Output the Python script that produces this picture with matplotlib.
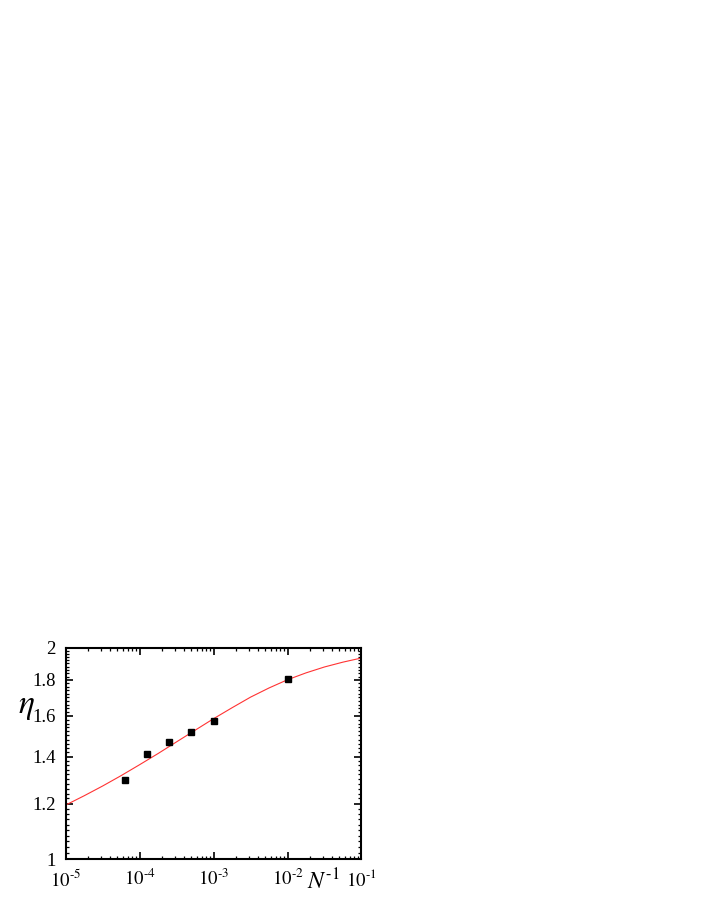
import matplotlib
matplotlib.use('Agg')
import matplotlib.pyplot as plt
from matplotlib.ticker import FixedLocator, NullFormatter, FixedFormatter

plt.rcParams['font.family'] = ['Liberation Serif', 'DejaVu Serif']
plt.rcParams['mathtext.fontset'] = 'stix'

# measured points
inv_n = [6.25e-5, 1.25e-4, 2.5e-4, 5e-4, 1e-3, 1e-2]
eta = [1.295, 1.412, 1.469, 1.519, 1.574, 1.807]

# fitted curve
fit_x = [1e-5, 1.78e-5, 3.16e-5, 5.62e-5, 1e-4, 1.78e-4, 3.16e-4, 5.62e-4, 1e-3,
         1.78e-3, 3.16e-3, 5.62e-3, 1e-2, 1.78e-2, 3.16e-2, 5.62e-2, 1e-1]
fit_y = [1.194, 1.231, 1.271, 1.315, 1.363, 1.414, 1.469, 1.526, 1.585,
         1.643, 1.701, 1.753, 1.801, 1.842, 1.878, 1.908, 1.934]

x_ticks = [1e-5, 1e-4, 1e-3, 1e-2, 1e-1]
x_labels = ['$10^{\u2010' + str(k) + '}$' for k in [5, 4, 3, 2, 1]]
y_ticks = [1, 1.2, 1.4, 1.6, 1.8, 2]
y_labels = ['1', '1.2', '1.4', '1.6', '1.8', '2']

fig = plt.figure(figsize=(7.06, 9.13), dpi=100)
ax = fig.add_axes([0.093, 0.059, 0.419, 0.2315])

ax.plot(fit_x, fit_y, color='#ff3333', lw=0.8)
ax.plot(inv_n, eta, 's', color='black', markersize=4)

ax.set_xscale('log')
ax.set_yscale('log')
ax.set_xlim(1e-5, 1e-1)
ax.set_ylim(1, 2)

ax.xaxis.set_major_locator(FixedLocator(x_ticks))
ax.xaxis.set_major_formatter(FixedFormatter(x_labels))
ax.xaxis.set_minor_locator(FixedLocator([m * d for d in x_ticks[:-1] for m in range(2, 10)]))
ax.xaxis.set_minor_formatter(NullFormatter())

ax.yaxis.set_major_locator(FixedLocator(y_ticks))
ax.yaxis.set_major_formatter(FixedFormatter(y_labels))
ax.yaxis.set_minor_locator(FixedLocator([1 + 0.02 * i for i in range(1, 50)]))
ax.yaxis.set_minor_formatter(NullFormatter())

ax.tick_params(which='both', direction='in', top=True, right=True, labelsize=13.5)
ax.tick_params(which='major', length=5, width=1.2)
ax.tick_params(which='minor', length=2.5, width=0.9)
ax.tick_params(axis='x', pad=7)
ax.tick_params(axis='y', pad=7)
for s in ax.spines.values():
    s.set_linewidth(1.5)

ax.text(-0.16, 0.72, r'$\eta$', transform=ax.transAxes, fontsize=24,
        ha='left', va='center')
ax.text(0.815, -0.142, '$N^{\u20101}$', transform=ax.transAxes, fontsize=17,
        ha='left', va='baseline')

fig.savefig('out.png', dpi=100)
